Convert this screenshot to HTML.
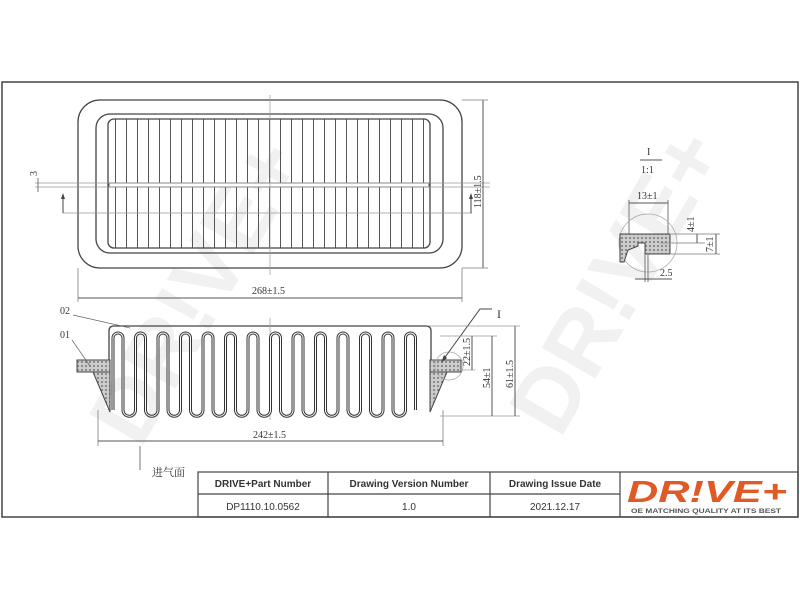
<!DOCTYPE html>
<html><head><meta charset="utf-8"><style>
html,body{margin:0;padding:0;background:#fff;}
svg{display:block}
text{font-family:"Liberation Serif","Noto Serif CJK SC",serif;fill:#333}
.s{font-family:"Liberation Sans",sans-serif;font-weight:bold;fill:#333}
</style></head><body>
<svg width="800" height="600" viewBox="0 0 800 600" xmlns="http://www.w3.org/2000/svg" xmlns:xlink="http://www.w3.org/1999/xlink">
<defs>
<pattern id="vl" x="115" y="0" width="11" height="10" patternUnits="userSpaceOnUse"><line x1="0.5" y1="0" x2="0.5" y2="10" stroke="#555" stroke-width="1"/></pattern>
<pattern id="h" width="4" height="4" patternUnits="userSpaceOnUse"><rect width="4" height="4" fill="#ccc"/><circle cx="2" cy="2" r="1" fill="#777"/></pattern>
<path id="pl" d="M113,410 v-72 a5 5 0 0 1 10 0 v72 a6.25 6.25 0 0 0 12.5 0 v-72 a5 5 0 0 1 10 0 v72 a6.25 6.25 0 0 0 12.5 0 v-72 a5 5 0 0 1 10 0 v72 a6.25 6.25 0 0 0 12.5 0 v-72 a5 5 0 0 1 10 0 v72 a6.25 6.25 0 0 0 12.5 0 v-72 a5 5 0 0 1 10 0 v72 a6.25 6.25 0 0 0 12.5 0 v-72 a5 5 0 0 1 10 0 v72 a6.25 6.25 0 0 0 12.5 0 v-72 a5 5 0 0 1 10 0 v72 a6.25 6.25 0 0 0 12.5 0 v-72 a5 5 0 0 1 10 0 v72 a6.25 6.25 0 0 0 12.5 0 v-72 a5 5 0 0 1 10 0 v72 a6.25 6.25 0 0 0 12.5 0 v-72 a5 5 0 0 1 10 0 v72 a6.25 6.25 0 0 0 12.5 0 v-72 a5 5 0 0 1 10 0 v72 a6.25 6.25 0 0 0 12.5 0 v-72 a5 5 0 0 1 10 0 v72 a6.25 6.25 0 0 0 12.5 0 v-72 a5 5 0 0 1 10 0 v72 a6.25 6.25 0 0 0 12.5 0 v-72 a5 5 0 0 1 10 0 v72"/>
</defs>
<!-- watermark -->
<text x="0" y="0" transform="translate(140,450) rotate(-60)" style="fill:#f1f1f1;font-family:'Liberation Sans',sans-serif;font-weight:bold" font-size="90">DR!VE+</text>
<text x="0" y="0" transform="translate(560,440) rotate(-60)" style="fill:#f1f1f1;font-family:'Liberation Sans',sans-serif;font-weight:bold" font-size="90">DR!VE+</text>
<!-- frame -->
<rect x="2" y="82" width="796" height="435" fill="none" stroke="#444" stroke-width="1.5"/>
<!-- top view -->
<rect x="78" y="100" width="384" height="168" rx="22" fill="none" stroke="#444" stroke-width="1.3"/>
<rect x="96" y="114" width="347" height="139" rx="14" fill="none" stroke="#444" stroke-width="1.3"/>
<rect x="108" y="119" width="322" height="129" rx="6" fill="url(#vl)" stroke="#444" stroke-width="1.3"/>
<rect x="109" y="183" width="320" height="4" fill="#fff" stroke="#555"/>
<line x1="270" y1="95" x2="270" y2="275" stroke="#999" stroke-width="0.7"/>
<line x1="35" y1="183" x2="490" y2="183" stroke="#999" stroke-width="0.7"/>
<line x1="35" y1="187" x2="490" y2="187" stroke="#999" stroke-width="0.7"/>
<line x1="63" y1="213" x2="472" y2="213" stroke="#999" stroke-width="0.7"/>
<line x1="63" y1="213" x2="63" y2="195" stroke="#444"/><path d="M61,199 L63,193 L65,199Z" fill="#444"/>
<line x1="471" y1="213" x2="471" y2="195" stroke="#444"/><path d="M469,199 L471,193 L473,199Z" fill="#444"/>
<text x="0" y="0" font-size="10" transform="translate(37,176) rotate(-90)">3</text>
<line x1="38" y1="178" x2="38" y2="192" stroke="#777"/>
<line x1="483" y1="100" x2="483" y2="268" stroke="#555"/>
<line x1="462" y1="100" x2="488" y2="100" stroke="#999"/><line x1="462" y1="268" x2="488" y2="268" stroke="#999"/>
<text x="0" y="0" font-size="10" transform="translate(481,208) rotate(-90)">118±1.5</text>
<line x1="78" y1="268" x2="78" y2="302" stroke="#999"/><line x1="462" y1="268" x2="462" y2="302" stroke="#999"/>
<line x1="78" y1="298" x2="462" y2="298" stroke="#555"/>
<text x="252" y="294" font-size="10">268±1.5</text>
<!-- side view -->
<path d="M109,360 V331 Q109,326 114,326 H426 Q431,326 431,331 V360" fill="none" stroke="#444" stroke-width="1.3"/>
<line x1="270" y1="318" x2="270" y2="420" stroke="#999" stroke-width="0.7"/>
<rect x="77" y="360" width="33" height="12" fill="url(#h)" stroke="#444"/>
<path d="M93,372 H110 V412 Z" fill="url(#h)" stroke="#444"/>
<rect x="430" y="360" width="31" height="12" fill="url(#h)" stroke="#444"/>
<path d="M430,372 H447 L430,412 Z" fill="url(#h)" stroke="#444"/>
<use xlink:href="#pl" href="#pl" fill="none" stroke="#333" stroke-width="3"/>
<use xlink:href="#pl" href="#pl" fill="none" stroke="#fff" stroke-width="1"/>
<!-- labels -->
<text x="60" y="314" font-size="10">02</text>
<line x1="73" y1="315" x2="130" y2="328" stroke="#666" stroke-width="0.7"/>
<text x="60" y="338" font-size="10">01</text>
<line x1="72" y1="340" x2="90" y2="366" stroke="#666" stroke-width="0.7"/>
<circle cx="449" cy="366" r="14" fill="none" stroke="#aaa" stroke-width="0.8"/>
<path d="M492,309 H480 L443,360" fill="none" stroke="#444"/><path d="M441,363 L444,355 L447,358Z" fill="#444"/>
<text x="497" y="318" font-size="12">I</text>
<line x1="429" y1="326" x2="520" y2="326" stroke="#999" stroke-width="0.7"/>
<line x1="440" y1="336" x2="497" y2="336" stroke="#999" stroke-width="0.7"/>
<line x1="460" y1="370" x2="475" y2="370" stroke="#999" stroke-width="0.7"/>
<line x1="440" y1="416" x2="520" y2="416" stroke="#999" stroke-width="0.7"/>
<line x1="472" y1="336" x2="472" y2="370" stroke="#555"/>
<line x1="492" y1="336" x2="492" y2="416" stroke="#555"/>
<line x1="515" y1="326" x2="515" y2="416" stroke="#555"/>
<text x="0" y="0" font-size="10" transform="translate(470,366) rotate(-90)">22±1.5</text>
<text x="0" y="0" font-size="10" transform="translate(490,388) rotate(-90)">54±1</text>
<text x="0" y="0" font-size="10" transform="translate(513,388) rotate(-90)">61±1.5</text>
<line x1="98" y1="410" x2="98" y2="446" stroke="#999"/><line x1="443" y1="410" x2="443" y2="446" stroke="#999"/>
<line x1="98" y1="441" x2="443" y2="441" stroke="#555"/>
<text x="253" y="438" font-size="10">242±1.5</text>
<line x1="140" y1="446" x2="140" y2="470" stroke="#777"/>
<text x="152" y="476" font-size="11">进气面</text>
<!-- detail I -->
<text x="647" y="155" font-size="10">I</text>
<line x1="640" y1="160" x2="662" y2="160" stroke="#555"/>
<text x="641" y="173" font-size="10">1:1</text>
<line x1="629" y1="200" x2="629" y2="250" stroke="#777"/><line x1="668" y1="200" x2="668" y2="245" stroke="#777"/>
<line x1="629" y1="203" x2="668" y2="203" stroke="#555"/>
<text x="637" y="199" font-size="10">13±1</text>
<circle cx="648" cy="243" r="29" fill="none" stroke="#aaa" stroke-width="0.8"/>
<path d="M620,234 H670 V254 H645 V243 H638 V246 L628,250 L624,262 L620,262 Z" fill="url(#h)" stroke="#444"/>
<line x1="670" y1="234" x2="720" y2="234" stroke="#999"/><line x1="670" y1="254" x2="720" y2="254" stroke="#999"/>
<line x1="660" y1="243" x2="705" y2="243" stroke="#999"/>
<line x1="697" y1="234" x2="697" y2="243" stroke="#555"/>
<line x1="716" y1="234" x2="716" y2="254" stroke="#555"/>
<text x="0" y="0" font-size="10" transform="translate(694,232) rotate(-90)">4±1</text>
<text x="0" y="0" font-size="10" transform="translate(713,252) rotate(-90)">7±1</text>
<line x1="645" y1="254" x2="645" y2="282" stroke="#777"/><line x1="648" y1="254" x2="648" y2="282" stroke="#777"/>
<line x1="635" y1="279" x2="672" y2="279" stroke="#555"/>
<text x="660" y="276" font-size="10">2.5</text>
<!-- table -->
<g stroke="#444" stroke-width="1.2" fill="none">
<rect x="198" y="472" width="600" height="45"/>
<line x1="198" y1="494" x2="620" y2="494"/>
<line x1="328" y1="472" x2="328" y2="517"/><line x1="490" y1="472" x2="490" y2="517"/><line x1="620" y1="472" x2="620" y2="517"/>
</g>
<g class="s" font-size="10" text-anchor="middle">
<text class="s" x="263" y="487">DRIVE+Part Number</text>
<text class="s" x="409" y="487">Drawing Version Number</text>
<text class="s" x="555" y="487">Drawing Issue Date</text>
</g>
<g font-size="10" text-anchor="middle">
<text x="263" y="510" style="font-family:'Liberation Sans',sans-serif">DP1110.10.0562</text>
<text x="409" y="510" style="font-family:'Liberation Sans',sans-serif">1.0</text>
<text x="555" y="510" style="font-family:'Liberation Sans',sans-serif">2021.12.17</text>
</g>
<text x="707" y="502" text-anchor="middle" style="font-family:'Liberation Sans',sans-serif;font-weight:bold;font-style:italic;fill:#e05a26" font-size="31" textLength="160" lengthAdjust="spacingAndGlyphs">DR!VE+</text>
<text x="706" y="513" text-anchor="middle" style="font-family:'Liberation Sans',sans-serif;font-weight:bold;fill:#555" font-size="6.5" textLength="150" lengthAdjust="spacingAndGlyphs">OE MATCHING QUALITY AT ITS BEST</text>
</svg>
</body></html>
